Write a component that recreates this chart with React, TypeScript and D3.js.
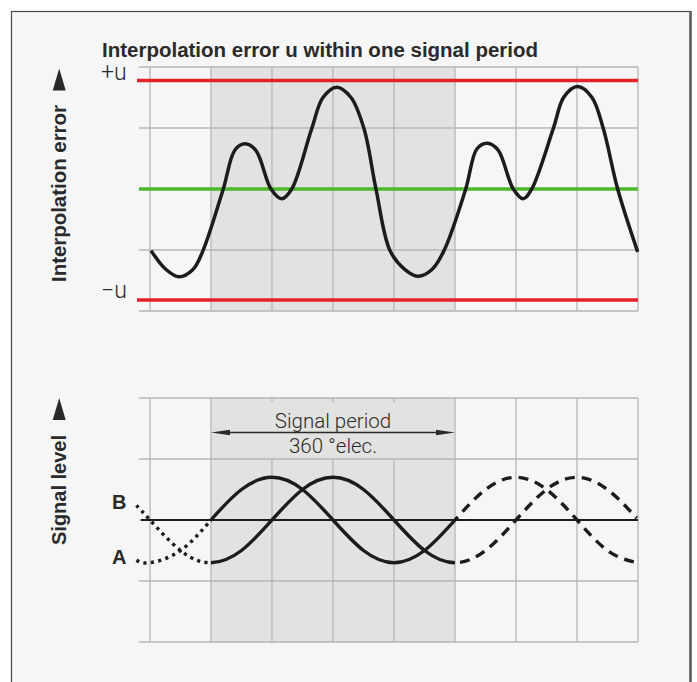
import React from 'react';
import * as d3 from 'd3';

const W = 697;
const H = 682;

// grid in electrical degrees (x) and divisions (y)
const gridDegrees = [-90, 0, 90, 180, 270, 360, 450, 540, 630];
const gridDivisions = [-2, -1, 0, 1, 2];
const periodDegrees = [0, 360];

// interpolation error curve (degrees, divisions)
const errorDeg = [-88.5, -66.4, -47.2, -26.6, -11.8, 18.1, 35.4, 50.6, 66.4, 88.5, 104.3, 119.1, 148.6, 165.2, 185.5, 206.6, 225.7, 243.4, 264.1, 286.2, 305.9, 326, 343.8, 375.8, 392.5, 407.7, 423.4, 446, 460.8, 473.2, 505, 520.8, 541, 562.1, 578.8, 600, 629.5];
const errorVal = [-1.01, -1.32, -1.44, -1.32, -1.01, 0, 0.64, 0.74, 0.63, 0, -0.16, 0, 0.99, 1.5, 1.67, 1.5, 0.99, 0, -1.01, -1.32, -1.43, -1.32, -1.01, 0, 0.66, 0.75, 0.64, 0, -0.16, 0, 0.99, 1.51, 1.68, 1.5, 0.99, 0, -1.03];

// error limits +u / -u
const limitLabels = ['+u', '\u2212u'];
const limitValues = [1.78, -1.82];

// signals A and B (degrees, divisions)
const signalDeg = [-110, -90, -45, 0, 45, 90, 135, 180, 225, 270, 315, 360, 405, 450, 495, 540, 585, 628];
const signalA = [-0.66, -0.7, -0.5, 0, 0.5, 0.7, 0.5, 0, -0.5, -0.7, -0.5, 0, 0.5, 0.7, 0.5, 0, -0.5, -0.7];
const signalB = [0.24, 0, -0.5, -0.7, -0.5, 0, 0.5, 0.7, 0.5, 0, -0.5, -0.7, -0.5, 0, 0.5, 0.7, 0.5, 0.03];
const signalNames = ['B', 'A'];
const signalLabelVals = [0.29, -0.6];

const titleText = 'Interpolation error u within one signal period';
const yTitleTop = 'Interpolation error';
const yTitleBottom = 'Signal level';
const periodText = ['Signal period', '360 \u00B0elec.'];

const RED = '#e4202b';
const GREEN = '#4cb82b';
const GRID = '#b6b6b6';
const SHADE = '#e2e2e1';
const INK = '#1c1c1c';
const TEXT = '#2a2a2a';

const BOLD = '"Liberation Sans Narrow", "Liberation Sans", Arial, sans-serif';
const LIGHT = 'Roboto, "Liberation Sans", Arial, sans-serif';

export default function App() {
  const x = d3.scaleLinear().domain([-90, 630]).range([150, 638]);
  const yTop = d3.scaleLinear().domain([-2, 2]).range([311, 67]);
  const yBot = d3.scaleLinear().domain([-2, 2]).range([642, 398]);

  const xLeftTick = 139;
  const xRight = x(630);

  const errorLine = d3
    .line<number>()
    .x((_, i) => x(errorDeg[i]))
    .y((d) => yTop(d))
    .curve(d3.curveCatmullRom.alpha(0.5));

  const sigLine = d3
    .line<number>()
    .x((_, i) => x(signalDeg[i]))
    .y((d) => yBot(d))
    .curve(d3.curveNatural);

  const pA = sigLine(signalA) || '';
  const pB = sigLine(signalB) || '';

  const p0 = x(periodDegrees[0]);
  const p1 = x(periodDegrees[1]);

  const arrowY = 432.5;

  const yAxisArrow = (cx: number, top: number) =>
    `M${cx - 6.5},${top + 22} L${cx},${top} L${cx + 6.5},${top + 22} Z`;

  return (
    <svg
      width={W}
      height={H}
      style={{ position: 'absolute', left: 0, top: 0 }}
      xmlns="http://www.w3.org/2000/svg"
    >
      <defs>
        <clipPath id="clipPre">
          <rect x={0} y={380} width={p0} height={280} />
        </clipPath>
        <clipPath id="clipMid">
          <rect x={p0} y={380} width={p1 - p0} height={280} />
        </clipPath>
        <clipPath id="clipPost">
          <rect x={p1} y={380} width={W - p1} height={280} />
        </clipPath>
      </defs>
      <rect x={0} y={0} width={W} height={H} fill="#ffffff" />
      <rect x={11.5} y={11.5} width={679} height={700} fill="#f6f6f6" stroke="#4a4a4a" strokeWidth={1.2} />
      <line x1={690.5} x2={690.5} y1={11} y2={H} stroke="#5a5a5a" strokeWidth={2.5} />

      {/* title */}
      <text x={102} y={57} fontFamily={BOLD} fontWeight={700} fontSize={20} fill={TEXT} textLength={436} lengthAdjust="spacingAndGlyphs">
        {titleText}
      </text>

      {/* ===== top panel ===== */}
      <rect x={p0} y={yTop(2)} width={p1 - p0} height={yTop(-2) - yTop(2)} fill={SHADE} />
      {gridDivisions.map((d) => (
        <line key={'th' + d} x1={xLeftTick} x2={xRight} y1={yTop(d)} y2={yTop(d)} stroke={GRID} strokeWidth={1.3} />
      ))}
      {gridDegrees.map((d) => (
        <line key={'tv' + d} x1={x(d)} x2={x(d)} y1={yTop(2)} y2={yTop(-2)} stroke={GRID} strokeWidth={1.3} />
      ))}
      {limitValues.map((v, i) => (
        <line key={'lim' + i} x1={137} x2={xRight} y1={yTop(v)} y2={yTop(v)} stroke={RED} strokeWidth={3.5} />
      ))}
      <line x1={xLeftTick} x2={xRight} y1={yTop(0)} y2={yTop(0)} stroke={GREEN} strokeWidth={3.5} />
      <path d={errorLine(errorVal) || ''} fill="none" stroke={INK} strokeWidth={3.5} strokeLinejoin="round" />
      {limitLabels.map((l, i) => (
        <text key={'ll' + i} x={101} y={yTop(limitValues[i]) - (i === 0 ? 0 : 2)} fontFamily={LIGHT} fontWeight={300} fontSize={23} fill={TEXT}>
          {l}
        </text>
      ))}
      <path d={yAxisArrow(59.2, 68.5)} fill={TEXT} />
      <text
        transform={`translate(66,${193.5}) rotate(-90)`}
        textAnchor="middle"
        fontFamily={BOLD}
        fontWeight={700}
        fontSize={20}
        fill={TEXT}
        textLength={177}
        lengthAdjust="spacingAndGlyphs"
      >
        {yTitleTop}
      </text>

      {/* ===== bottom panel ===== */}
      <rect x={p0} y={yBot(2)} width={p1 - p0} height={yBot(-2) - yBot(2)} fill={SHADE} />
      {gridDivisions.map((d) => (
        <line key={'bh' + d} x1={xLeftTick} x2={xRight} y1={yBot(d)} y2={yBot(d)} stroke={GRID} strokeWidth={1.3} />
      ))}
      {gridDegrees.map((d) => {
        const inner = d > periodDegrees[0] && d < periodDegrees[1];
        return (
          <g key={'bv' + d}>
            <line x1={x(d)} x2={x(d)} y1={inner ? yBot(1) : yBot(2)} y2={yBot(-2)} stroke={GRID} strokeWidth={1.3} />
            {inner && <line x1={x(d)} x2={x(d)} y1={yBot(2)} y2={yBot(2) + 4} stroke={GRID} strokeWidth={1.3} />}
          </g>
        );
      })}
      <line x1={141} x2={xRight} y1={yBot(0)} y2={yBot(0)} stroke={INK} strokeWidth={1.8} />

      {[pA, pB].map((p, i) => (
        <g key={'sig' + i} fill="none" stroke={INK} strokeWidth={3.4}>
          <path d={p} clipPath="url(#clipPre)" strokeDasharray="3.2 4.3" />
          <path d={p} clipPath="url(#clipMid)" />
          <path d={p} clipPath="url(#clipPost)" strokeDasharray="10 7" />
        </g>
      ))}

      {signalNames.map((n, i) => (
        <text key={'sn' + n} x={112} y={yBot(signalLabelVals[i]) + 7} fontFamily={BOLD} fontWeight={700} fontSize={20} fill={TEXT}>
          {n}
        </text>
      ))}

      {/* period arrow */}
      <line x1={p0 + 10} x2={p1 - 10} y1={arrowY} y2={arrowY} stroke={TEXT} strokeWidth={1.3} />
      <path d={`M${p0},${arrowY} L${p0 + 19},${arrowY - 2.8} L${p0 + 19},${arrowY + 2.8} Z`} fill={TEXT} />
      <path d={`M${p1},${arrowY} L${p1 - 19},${arrowY - 2.8} L${p1 - 19},${arrowY + 2.8} Z`} fill={TEXT} />
      <text x={(p0 + p1) / 2} y={427.5} textAnchor="middle" fontFamily={LIGHT} fontWeight={300} fontSize={20.5} fill={TEXT}>
        {periodText[0]}
      </text>
      <text x={(p0 + p1) / 2} y={453} textAnchor="middle" fontFamily={LIGHT} fontWeight={300} fontSize={20.5} fill={TEXT}>
        {periodText[1]}
      </text>

      <path d={yAxisArrow(59.2, 398)} fill={TEXT} />
      <text
        transform={`translate(66,${490}) rotate(-90)`}
        textAnchor="middle"
        fontFamily={BOLD}
        fontWeight={700}
        fontSize={20}
        fill={TEXT}
        textLength={110}
        lengthAdjust="spacingAndGlyphs"
      >
        {yTitleBottom}
      </text>
    </svg>
  );
}
